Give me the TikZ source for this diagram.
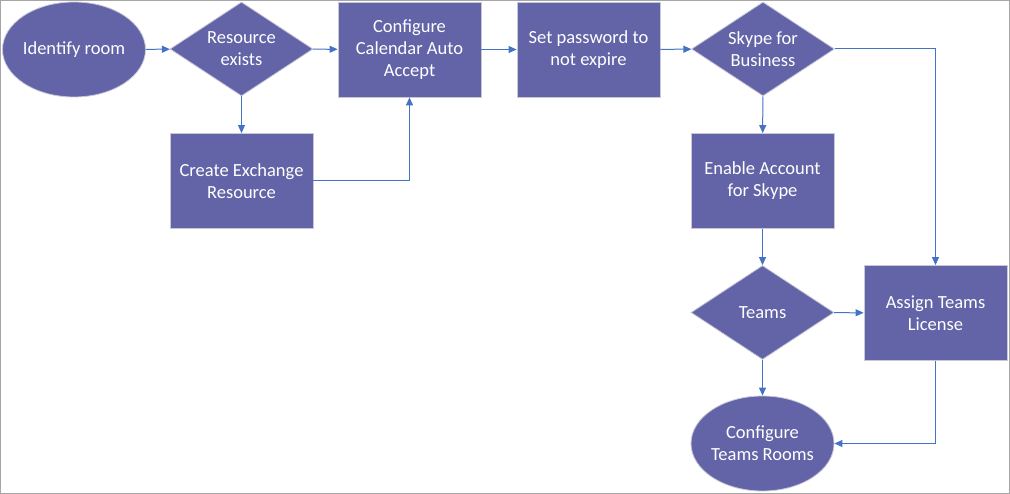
\documentclass[tikz,border=0pt]{standalone}
\usepackage{fontspec}
\setmainfont{Carlito}
\usetikzlibrary{shapes.geometric,arrows.meta}
\definecolor{flowfill}{HTML}{6264A7}
\definecolor{flowline}{HTML}{4472C4}
\definecolor{flowedge}{HTML}{C8C8D8}

\begin{document}
\begin{tikzpicture}[x=1pt,y=-1pt,
  box/.style={draw=flowedge,line width=0.8pt,fill=flowfill,text=white,align=center,
    font=\fontsize{18.5}{22}\selectfont,inner sep=0pt,minimum width=143pt,minimum height=95pt},
  decision/.style={box,diamond,aspect=1.52,minimum height=94pt},
  terminal/.style={box,ellipse,inner xsep=-4pt},
  conn/.style={draw=flowline,line width=1pt,-{Triangle[length=8pt,width=7pt]}}]
\useasboundingbox (0,0) rectangle (1010,494);
% Frame
\draw[draw=black!35,line width=1pt] (0.5,0.5) rectangle (1009.5,493.5);

% Top row
\node[terminal] (identify) at (74,49.5) {Identify room};
\node[decision] (exists) at (241.5,49) {Resource\\exists};
\node[box] (config) at (409.5,49.5) {Configure\\Calendar Auto\\Accept};
\node[box] (password) at (588.5,49.5) {Set password to\\not expire};
\node[decision] (skype) at (763,49) {Skype for\\Business};

% Middle row
\node[box] (create) at (241.5,181) {Create Exchange\\Resource};
\node[box] (enable) at (762.5,181) {Enable Account\\for Skype};

% Bottom part
\node[decision] (teams) at (762.5,312.5) {Teams};
\node[box] (assign) at (935.5,313) {Assign Teams\\License};
\node[terminal] (rooms) at (762.5,443.5) {Configure\\Teams Rooms};

% Connectors
\draw[conn] (identify) -- (exists);
\draw[conn] (exists) -- (config);
\draw[conn] (exists) -- (create);
\draw[conn] (create.east) -| (config.south);
\draw[conn] (config) -- (password);
\draw[conn] (password) -- (skype);
\draw[conn] (skype) -- (enable);
\draw[conn] (skype.east) -| (assign.north);
\draw[conn] (enable) -- (teams);
\draw[conn] (teams) -- (assign);
\draw[conn] (teams) -- (rooms);
\draw[conn] (assign.south) |- (rooms.east);
\end{tikzpicture}
\end{document}
